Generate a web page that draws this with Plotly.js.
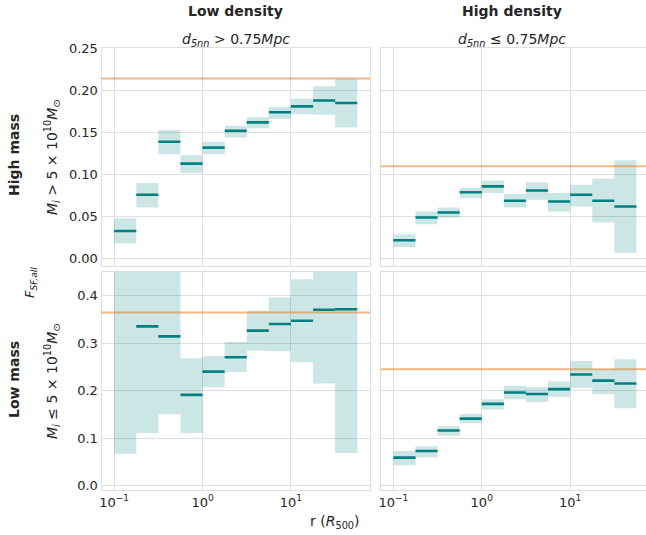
<!DOCTYPE html>
<html>
<head>
<meta charset="utf-8">
<script src="https://cdn.plot.ly/plotly-3.0.1.min.js"></script>
<style>html,body{margin:0;padding:0;background:#fff;}#chart{width:646px;height:535px;}</style>
</head>
<body>
<div id="chart"></div>
<script>
// Radial bin edges (R500), 0.25 dex bins
const binEdges = [0.1, 0.178, 0.316, 0.562, 1.0, 1.78, 3.16, 5.62, 10.0, 17.8, 31.6, 56.2];

// High mass, low density
const hmLowMean = [0.033, 0.076, 0.139, 0.113, 0.132, 0.152, 0.162, 0.174, 0.181, 0.188, 0.185];
const hmLowLo   = [0.018, 0.061, 0.124, 0.102, 0.124, 0.144, 0.155, 0.166, 0.172, 0.171, 0.156];
const hmLowHi   = [0.048, 0.090, 0.153, 0.123, 0.139, 0.158, 0.168, 0.180, 0.190, 0.205, 0.214];
const hmLowAll  = 0.214;

// High mass, high density
const hmHighMean = [0.022, 0.049, 0.055, 0.079, 0.086, 0.069, 0.081, 0.068, 0.076, 0.069, 0.062];
const hmHighLo   = [0.014, 0.041, 0.049, 0.072, 0.078, 0.061, 0.070, 0.056, 0.062, 0.043, 0.007];
const hmHighHi   = [0.029, 0.056, 0.061, 0.084, 0.093, 0.077, 0.091, 0.078, 0.088, 0.095, 0.117];
const hmHighAll  = 0.110;

// Low mass, low density
const lmLowMean = [0.600, 0.335, 0.314, 0.191, 0.240, 0.270, 0.326, 0.340, 0.347, 0.370, 0.371];
const lmLowLo   = [0.067, 0.111, 0.151, 0.111, 0.207, 0.239, 0.284, 0.283, 0.260, 0.215, 0.069];
const lmLowHi   = [1.000, 0.600, 0.550, 0.268, 0.273, 0.302, 0.368, 0.396, 0.434, 0.520, 0.700];
const lmLowAll  = 0.364;

// Low mass, high density
const lmHighMean = [0.059, 0.073, 0.116, 0.141, 0.172, 0.196, 0.193, 0.203, 0.234, 0.221, 0.215];
const lmHighLo   = [0.043, 0.060, 0.105, 0.132, 0.160, 0.182, 0.176, 0.187, 0.206, 0.193, 0.163];
const lmHighHi   = [0.073, 0.083, 0.125, 0.151, 0.182, 0.210, 0.207, 0.219, 0.262, 0.245, 0.266];
const lmHighAll  = 0.245;

const xTickVals = [0.1, 1, 10];
const xTickText = ['10<sup>−1</sup>', '10<sup>0</sup>', '10<sup>1</sup>'];

const TEAL = '#008080';
const BOXFILL = 'rgba(0,128,128,0.2)';
const ORANGE = 'rgba(230,126,34,0.55)';

function boxTrace(lo, hi, xa, ya) {
  const x = [], y = [];
  for (let i = 0; i < lo.length; i++) {
    const a = binEdges[i], b = binEdges[i + 1];
    x.push(a, b, b, a, a, null);
    y.push(lo[i], lo[i], hi[i], hi[i], lo[i], null);
  }
  return {x, y, xaxis: xa, yaxis: ya, type: 'scatter', mode: 'lines', fill: 'toself',
    fillcolor: BOXFILL, line: {width: 0, color: BOXFILL}, hoverinfo: 'skip', showlegend: false};
}
function meanTrace(m, xa, ya) {
  const x = [], y = [];
  for (let i = 0; i < m.length; i++) {
    x.push(binEdges[i], binEdges[i + 1], null);
    y.push(m[i], m[i], null);
  }
  return {x, y, xaxis: xa, yaxis: ya, type: 'scatter', mode: 'lines',
    line: {width: 2.6, color: TEAL}, showlegend: false};
}

const traces = [
  boxTrace(hmLowLo, hmLowHi, 'x', 'y'), meanTrace(hmLowMean, 'x', 'y'),
  boxTrace(hmHighLo, hmHighHi, 'x2', 'y2'), meanTrace(hmHighMean, 'x2', 'y2'),
  boxTrace(lmLowLo, lmLowHi, 'x3', 'y3'), meanTrace(lmLowMean, 'x3', 'y3'),
  boxTrace(lmHighLo, lmHighHi, 'x4', 'y4'), meanTrace(lmHighMean, 'x4', 'y4'),
];

function hline(val, xa, ya) {
  return {type: 'line', xref: xa + ' domain', yref: ya, x0: 0, x1: 1, y0: val, y1: val,
    line: {color: ORANGE, width: 2}, layer: 'above'};
}

const W = 646, H = 535;
const px = v => v / W, py = v => 1 - v / H;
const GRID = '#dedede';
const tickFont = {family: 'DejaVu Sans', size: 13, color: '#262626'};

function xAxis(domain, range, showLabels, anchor) {
  return {type: 'log', domain, range, anchor, tickvals: xTickVals, ticktext: xTickText,
    showticklabels: showLabels, showgrid: true, gridcolor: GRID, gridwidth: 1,
    showline: true, mirror: true, linecolor: GRID, linewidth: 1, ticks: '', zeroline: false,
    tickfont: tickFont};
}
function yAxis(domain, range, tickvals, fmt, showLabels, anchor) {
  return {domain, range, anchor, tickvals, tickformat: fmt, showticklabels: showLabels,
    showgrid: true, gridcolor: GRID, gridwidth: 1, showline: true, mirror: true,
    linecolor: GRID, linewidth: 1, ticks: '', zeroline: false, tickfont: tickFont};
}

const xL = [px(101.5), px(370)], xR = [px(381), 1];
const yT = [py(265.5), py(48.3)], yB = [py(490), py(271.7)];
const rangeL = [-1.143, 1.894], rangeR = [-1.14, 1.858];
const topTicks = [0, 0.05, 0.1, 0.15, 0.2, 0.25];
const botTicks = [0, 0.1, 0.2, 0.3, 0.4];

const ann = (text, x, y, size, angle, extra) => Object.assign({
  text, x: px(x), y: py(y), xref: 'paper', yref: 'paper', showarrow: false,
  xanchor: 'center', yanchor: 'middle', textangle: angle || 0,
  font: {family: 'DejaVu Sans', size, color: '#262626'}}, extra || {});

const layout = {
  width: W, height: H, margin: {l: 0, r: 0, t: 0, b: 0},
  paper_bgcolor: '#fff', plot_bgcolor: '#fff', showlegend: false,
  xaxis: xAxis(xL, rangeL, false, 'y'),
  xaxis2: xAxis(xR, rangeR, false, 'y2'),
  xaxis3: xAxis(xL, rangeL, true, 'y3'),
  xaxis4: xAxis(xR, rangeR, true, 'y4'),
  yaxis: yAxis(yT, [-0.008, 0.25], topTicks, '.2f', true, 'x'),
  yaxis2: yAxis(yT, [-0.008, 0.25], topTicks, '.2f', false, 'x2'),
  yaxis3: yAxis(yB, [-0.009, 0.45], botTicks, '.1f', true, 'x3'),
  yaxis4: yAxis(yB, [-0.009, 0.45], botTicks, '.1f', false, 'x4'),
  shapes: [hline(hmLowAll, 'x', 'y'), hline(hmHighAll, 'x2', 'y2'),
           hline(lmLowAll, 'x3', 'y3'), hline(lmHighAll, 'x4', 'y4')],
  annotations: [
    ann('<b>Low density</b>', 235.5, 11, 14),
    ann('<b>High density</b>', 512, 11, 14),
    ann('<i>d</i><sub><i>5nn</i></sub> > 0.75<i>Mpc</i>', 235.5, 40, 14),
    ann('<i>d</i><sub><i>5nn</i></sub> ≤ 0.75<i>Mpc</i>', 512, 40, 14),
    ann('<b>High mass</b>', 14, 155, 14, -90),
    ann('<b>Low mass</b>', 14, 380, 14, -90),
    ann('<i>M<sub>i</sub></i> > 5 × 10<sup>10</sup><i>M</i><sub>⊙</sub>', 52, 157, 14, -90),
    ann('<i>M<sub>i</sub></i> ≤ 5 × 10<sup>10</sup><i>M</i><sub>⊙</sub>', 52, 381, 14, -90),
    ann('<i>F</i><sub><i>SF,all</i></sub>', 30, 283, 13, -90),
    ann('r (<i>R</i><sub>500</sub>)', 335, 522, 14),
  ],
};

Plotly.newPlot('chart', traces, layout, {staticPlot: true, displayModeBar: false});
</script>
</body>
</html>
